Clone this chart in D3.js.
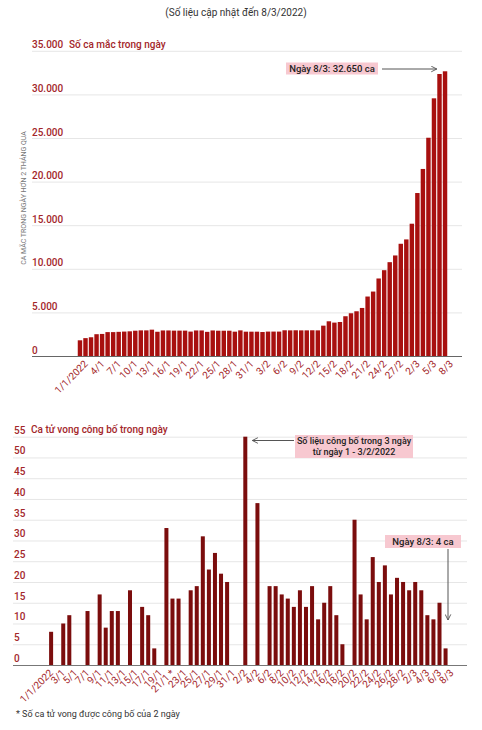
<!DOCTYPE html>
<html><head><meta charset="utf-8">
<script src="https://cdn.jsdelivr.net/npm/d3@7"></script>
<style>
html,body{margin:0;padding:0;background:#fff;}
svg{display:block;font-family:Roboto,"Noto Sans",sans-serif;}
</style></head>
<body>
<svg id="c" width="482" height="730"></svg>
<script>
// ---------- DATA ----------
const dates = ["1/1","2/1","3/1","4/1","5/1","6/1","7/1","8/1","9/1","10/1","11/1","12/1","13/1","14/1","15/1","16/1","17/1","18/1","19/1","20/1","21/1","22/1","23/1","24/1","25/1","26/1","27/1","28/1","29/1","30/1","31/1",
"1/2","2/2","3/2","4/2","5/2","6/2","7/2","8/2","9/2","10/2","11/2","12/2","13/2","14/2","15/2","16/2","17/2","18/2","19/2","20/2","21/2","22/2","23/2","24/2","25/2","26/2","27/2","28/2",
"1/3","2/3","3/3","4/3","5/3","6/3","7/3","8/3"];

const casesValues = [1800,2050,2150,2500,2530,2740,2740,2770,2800,2830,2900,2940,2940,3020,2780,2930,2930,2910,2910,2910,2800,2930,2930,2770,2930,2900,2900,2900,2790,2940,2790,
2790,2790,2750,2800,2800,2800,2950,2940,2950,2940,2940,2950,2940,3480,3980,3830,3900,4560,4900,5130,5510,6820,7390,8890,9840,10760,11530,12870,
13370,15170,18690,21450,25030,29550,32340,32650];

const deathsValues = [0,8,0,10,12,0,0,13,0,17,9,13,13,0,18,0,14,12,4,0,33,16,16,0,18,19,31,23,27,22,20,
0,0,55,0,39,0,19,19,17,16,14,18,14,19,11,15,19,12,5,0,35,17,11,26,20,24,17,21,
20,18,20,18,12,11,15,4];

const casesTicks = [0,5000,10000,15000,20000,25000,30000,35000];
const deathsTicks = [0,5,10,15,20,25,30,35,40,45,50,55];

const casesTickDates = ["1/1","4/1","7/1","10/1","13/1","16/1","19/1","22/1","25/1","28/1","31/1","3/2","6/2","9/2","12/2","15/2","18/2","21/2","24/2","27/2","2/3","5/3","8/3"];
const casesTickLabels = ["1/1/2022","4/1","7/1","10/1","13/1","16/1","19/1","22/1","25/1","28/1","31/1","3/2","6/2","9/2","12/2","15/2","18/2","21/2","24/2","27/2","2/3","5/3","8/3"];
const deathsTickDates = ["1/1","3/1","5/1","7/1","9/1","11/1","13/1","15/1","17/1","19/1","21/1","23/1","25/1","27/1","29/1","31/1","2/2","4/2","6/2","8/2","10/2","12/2","14/2","16/2","18/2","20/2","22/2","24/2","26/2","28/2","2/3","4/3","6/3","8/3"];
const deathsTickLabels = ["1/1/2022","3/1","5/1","7/1","9/1","11/1","13/1","15/1","17/1","19/1","21/1 *","23/1","25/1","27/1","29/1","31/1","2/2","4/2","6/2","8/2","10/2","12/2","14/2","16/2","18/2","20/2","22/2","24/2","26/2","28/2","2/3","4/3","6/3","8/3"];

// ---------- STYLE ----------
const RED_TEXT = "#a3262a";
const locale = d3.formatLocale({decimal:",",thousands:".",grouping:[3],currency:["",""]});
const fmt = locale.format(",d");
const svg = d3.select("#c");

const defs = svg.append("defs");
defs.append("marker").attr("id","arr").attr("viewBox","0 0 10 10").attr("refX",9).attr("refY",5)
  .attr("markerWidth",7).attr("markerHeight",7).attr("orient","auto-start-reverse")
  .append("path").attr("d","M1,1 L9,5 L1,9").attr("fill","none").attr("stroke","#555").attr("stroke-width",1.3);

// Header
svg.append("text").attr("x",236).attr("y",16).attr("text-anchor","middle")
  .attr("font-size",10).attr("fill","#333").text("(Số liệu cập nhật đến 8/3/2022)");

// ---------- TOP CHART ----------
{
  const x = d3.scaleBand().domain(dates).range([77.2,447.8]).paddingInner(0.2).paddingOuter(0.1);
  const y = d3.scaleLinear().domain([0,35000]).range([356,50.8]);
  const g = svg.append("g");
  const ax = g.append("g").attr("transform","translate(32,0)")
    .call(d3.axisLeft(y).tickValues(casesTicks).tickSize(-430).tickFormat(fmt));
  ax.select(".domain").remove();
  ax.selectAll(".tick line").attr("stroke","#e6e6e6").attr("stroke-width",1)
    .attr("x1",0).attr("x2",430);
  ax.selectAll(".tick text").attr("x",0).attr("dy",-3).attr("text-anchor","start")
    .attr("font-size",10).attr("font-weight",500)
    .attr("fill",RED_TEXT).attr("font-family","Roboto");
  g.append("text").attr("x",69).attr("y",y(35000)-3).attr("font-size",10).attr("font-weight",500)
    .attr("fill",RED_TEXT).text("Số ca mắc trong ngày");
  g.append("text").attr("transform","translate(26,198) rotate(-90)").attr("text-anchor","middle")
    .attr("font-size",7).attr("fill","#777").text("CA MẮC TRONG NGÀY HƠN 2 THÁNG QUA");
  g.append("g").selectAll("rect").data(dates).join("rect")
    .attr("x",d=>x(d)).attr("width",x.bandwidth())
    .attr("y",(d,i)=>y(casesValues[i])).attr("height",(d,i)=>y(0)-y(casesValues[i]))
    .attr("fill","#a8100f");
  g.append("line").attr("x1",32).attr("x2",462).attr("y1",y(0)+0.5).attr("y2",y(0)+0.5)
    .attr("stroke","#666").attr("stroke-width",1);
  const xa = g.append("g").attr("transform",`translate(0,${y(0)})`)
    .call(d3.axisBottom(x).tickValues(casesTickDates).tickSize(0)
      .tickFormat(d=>casesTickLabels[casesTickDates.indexOf(d)]));
  xa.select(".domain").remove();
  xa.selectAll(".tick text").attr("text-anchor","end").attr("transform","translate(4,4) rotate(-45)")
    .attr("dy","0.35em").attr("font-size",10).attr("fill",RED_TEXT).attr("font-family","Roboto");
  const ann = g.append("g");
  ann.append("rect").attr("x",286).attr("y",62.5).attr("width",92).attr("height",12).attr("fill","#f7c8d0");
  ann.append("text").attr("x",332).attr("y",72).attr("text-anchor","middle").attr("font-size",9.5).attr("font-weight",500).attr("fill","#222")
    .text("Ngày 8/3: " + fmt(casesValues[casesValues.length-1]) + " ca");
  ann.append("line").attr("x1",382).attr("x2",x("8/3")-6).attr("y1",69).attr("y2",69)
    .attr("stroke","#555").attr("stroke-width",1).attr("marker-end","url(#arr)");
}

// ---------- BOTTOM CHART ----------
{
  const x = d3.scaleBand().domain(dates).range([42,448.6]).paddingInner(0.34).paddingOuter(0.17);
  const y = d3.scaleLinear().domain([0,55]).range([665,436.7]);
  const g = svg.append("g");
  const ax = g.append("g").attr("transform","translate(14,0)")
    .call(d3.axisLeft(y).tickValues(deathsTicks).tickSize(-453));
  ax.select(".domain").remove();
  ax.selectAll(".tick line").attr("stroke","#e6e6e6").attr("x1",-1).attr("x2",453);
  ax.selectAll(".tick text").attr("x",0).attr("dy",-3.5).attr("text-anchor","start")
    .attr("font-size",10).attr("font-weight",500).attr("fill",RED_TEXT).attr("font-family","Roboto");
  g.append("text").attr("x",31).attr("y",y(55)-3.5).attr("font-size",10).attr("font-weight",500)
    .attr("fill",RED_TEXT).text("Ca tử vong công bố trong ngày");
  g.append("g").selectAll("rect").data(dates).join("rect")
    .attr("x",d=>x(d)).attr("width",x.bandwidth())
    .attr("y",(d,i)=>y(deathsValues[i])).attr("height",(d,i)=>y(0)-y(deathsValues[i]))
    .attr("fill","#7b0d0d");
  g.append("line").attr("x1",13).attr("x2",467).attr("y1",y(0)+0.5).attr("y2",y(0)+0.5)
    .attr("stroke","#777").attr("stroke-width",1);
  const xa = g.append("g").attr("transform",`translate(0,${y(0)})`)
    .call(d3.axisBottom(x).tickValues(deathsTickDates).tickSize(0)
      .tickFormat(d=>deathsTickLabels[deathsTickDates.indexOf(d)]));
  xa.select(".domain").remove();
  xa.selectAll(".tick text").attr("text-anchor","end").attr("transform","translate(4,4) rotate(-45)")
    .attr("dy","0.35em").attr("font-size",10).attr("fill",RED_TEXT).attr("font-family","Roboto");
  const a1 = g.append("g");
  a1.append("rect").attr("x",295).attr("y",435).attr("width",118).attr("height",23).attr("fill","#f7c8d0");
  a1.append("text").attr("x",354).attr("y",443.8).attr("text-anchor","middle").attr("font-size",9).attr("font-weight",500).attr("fill","#222")
    .text("Số liệu công bố trong 3 ngày");
  a1.append("text").attr("x",354).attr("y",454.8).attr("text-anchor","middle").attr("font-size",9).attr("font-weight",500).attr("fill","#222")
    .text("từ ngày 1 - 3/2/2022");
  a1.append("line").attr("x1",294).attr("x2",x("3/2")+x.bandwidth()+5).attr("y1",440.5).attr("y2",440.5)
    .attr("stroke","#555").attr("stroke-width",1).attr("marker-end","url(#arr)");
  const a2 = g.append("g");
  a2.append("rect").attr("x",385).attr("y",535).attr("width",76).attr("height",13).attr("fill","#f7c8d0");
  a2.append("text").attr("x",423).attr("y",544.8).attr("text-anchor","middle").attr("font-size",9.5).attr("font-weight",500).attr("fill","#222")
    .text("Ngày 8/3: " + deathsValues[deathsValues.length-1] + " ca");
  a2.append("line").attr("x1",448).attr("x2",448).attr("y1",549).attr("y2",620)
    .attr("stroke","#555").attr("stroke-width",1).attr("marker-end","url(#arr)");
}

svg.append("text").attr("x",16).attr("y",717).attr("font-size",9).attr("fill","#333")
  .text("* Số ca tử vong được công bố của 2 ngày");
</script>
</body></html>
